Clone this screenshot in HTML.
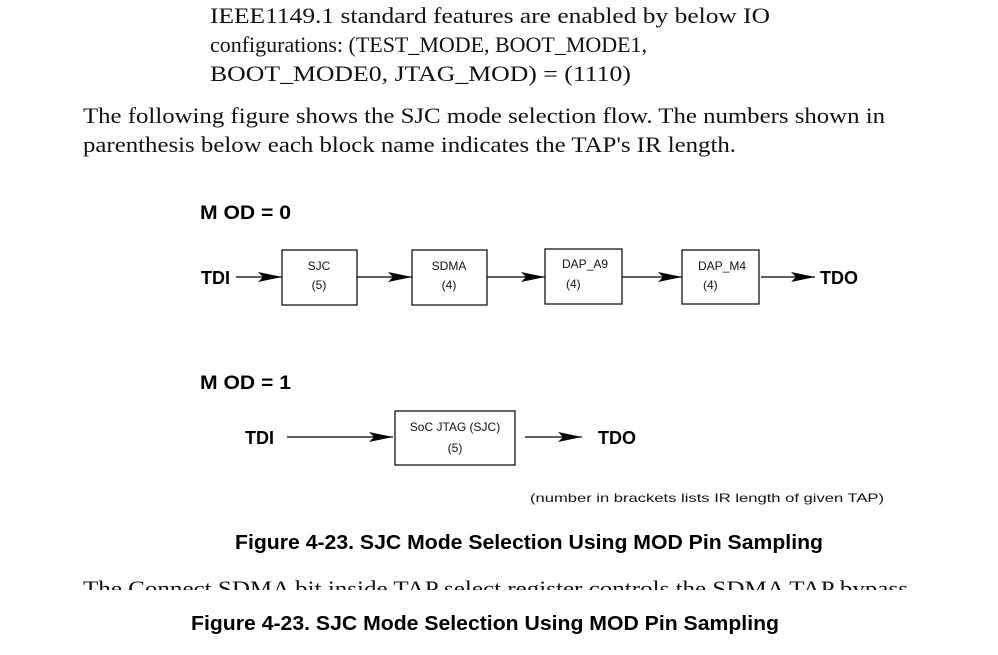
<!DOCTYPE html>
<html><head><meta charset="utf-8"><style>
html,body{margin:0;padding:0;background:#fff;width:998px;height:655px;overflow:hidden}
svg{display:block}
.s{font-family:"Liberation Serif",serif;font-size:22px;fill:#111}
.b{font-family:"Liberation Sans",sans-serif;font-weight:bold;fill:#000}
.n{font-family:"Liberation Sans",sans-serif;font-size:12px;fill:#111}
</style></head><body>
<svg width="998" height="655" viewBox="0 0 998 655">
<defs><marker id="a" markerWidth="30" markerHeight="12" refX="24" refY="5" orient="auto" markerUnits="userSpaceOnUse"><path d="M0,0 L24,5 L0,10 L5,5 Z" fill="#000"/></marker></defs>
<text class="s" x="210" y="23" textLength="560" lengthAdjust="spacingAndGlyphs">IEEE1149.1 standard features are enabled by below IO</text>
<text class="s" x="210" y="52" textLength="437" lengthAdjust="spacingAndGlyphs">configurations: (TEST_MODE, BOOT_MODE1,</text>
<text class="s" x="210" y="81" textLength="421" lengthAdjust="spacingAndGlyphs">BOOT_MODE0, JTAG_MOD) = (1110)</text>
<text class="s" x="83" y="123" textLength="802" lengthAdjust="spacingAndGlyphs">The following figure shows the SJC mode selection flow. The numbers shown in</text>
<text class="s" x="83" y="152" textLength="653" lengthAdjust="spacingAndGlyphs">parenthesis below each block name indicates the TAP's IR length.</text>
<text class="b" x="200" y="219" font-size="19" textLength="91" lengthAdjust="spacingAndGlyphs">M OD = 0</text>
<text class="b" x="201" y="284" font-size="18">TDI</text>
<g stroke="#000" stroke-width="1.2" fill="none">
<line x1="236" y1="277" x2="282" y2="277" marker-end="url(#a)"/>
<rect x="282" y="250" width="75" height="55"/>
<line x1="357" y1="277" x2="412" y2="277" marker-end="url(#a)"/>
<rect x="412" y="250" width="75" height="55"/>
<line x1="487" y1="277" x2="545" y2="277" marker-end="url(#a)"/>
<rect x="545" y="249" width="77" height="55"/>
<line x1="622" y1="277" x2="682" y2="277" marker-end="url(#a)"/>
<rect x="682" y="250" width="77" height="54"/>
<line x1="761" y1="277" x2="815" y2="277" marker-end="url(#a)"/>
<line x1="287" y1="437" x2="393" y2="437" marker-end="url(#a)"/>
<rect x="395" y="411" width="120" height="54"/>
<line x1="525" y1="437" x2="582" y2="437" marker-end="url(#a)"/>
</g>
<text class="n" x="319" y="270" text-anchor="middle">SJC</text>
<text class="n" x="319" y="289" text-anchor="middle">(5)</text>
<text class="n" x="449" y="270" text-anchor="middle">SDMA</text>
<text class="n" x="449" y="289" text-anchor="middle">(4)</text>
<text class="n" x="562" y="268">DAP_A9</text>
<text class="n" x="566" y="288">(4)</text>
<text class="n" x="698" y="270">DAP_M4</text>
<text class="n" x="703" y="289">(4)</text>
<text class="b" x="820" y="284" font-size="18">TDO</text>
<text class="b" x="200" y="389" font-size="19" textLength="91" lengthAdjust="spacingAndGlyphs">M OD = 1</text>
<text class="b" x="245" y="444" font-size="18">TDI</text>
<text class="n" x="455" y="431" text-anchor="middle">SoC JTAG (SJC)</text>
<text class="n" x="455" y="452" text-anchor="middle">(5)</text>
<text class="b" x="598" y="444" font-size="18">TDO</text>
<text class="n" x="530" y="502" font-size="15" textLength="354" lengthAdjust="spacingAndGlyphs">(number in brackets lists IR length of given TAP)</text>
<text class="b" x="235" y="549" font-size="20" textLength="588" lengthAdjust="spacingAndGlyphs">Figure 4-23. SJC Mode Selection Using MOD Pin Sampling</text>
<clipPath id="c"><rect x="0" y="570" width="998" height="20"/></clipPath>
<text class="s" x="83" y="596" clip-path="url(#c)" textLength="825" lengthAdjust="spacingAndGlyphs">The Connect SDMA bit inside TAP select register controls the SDMA TAP bypass</text>
<text class="b" x="191" y="630" font-size="20" textLength="588" lengthAdjust="spacingAndGlyphs">Figure 4-23. SJC Mode Selection Using MOD Pin Sampling</text>
</svg>
</body></html>
